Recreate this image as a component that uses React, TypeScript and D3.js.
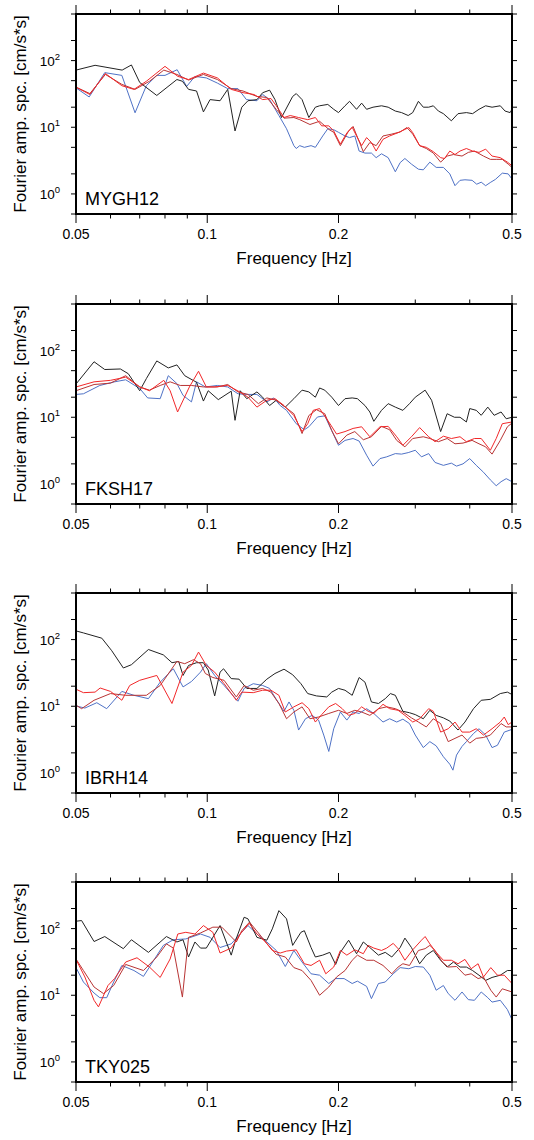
import React from 'react';
import * as d3 from 'd3';

// ---------- axis tick values ----------
const X_MAJOR = [0.05, 0.1, 0.2, 0.5];
const X_MINOR = [0.06, 0.07, 0.08, 0.09, 0.3, 0.4];
const Y_MAJOR = [1, 10, 100];
const Y_MINOR = [0.5, 2, 5, 20, 50, 200, 500];
const X_LABELS = ['0.05', '0.1', '0.2', '0.5'];
const Y_EXP = ['0', '1', '2'];
const STATIONS = ['MYGH12', 'FKSH17', 'IBRH14', 'TKY025'];

// ---------- data: [frequency Hz, Fourier amplitude] ----------
const mygh12Black = [[0.05,72],[0.0553,85],[0.0638,72],[0.067,86],[0.07,47],[0.0766,30],[0.0852,52],[0.0877,49],[0.0906,37],[0.0945,35],[0.098,17],[0.1015,26],[0.107,25],[0.1114,37],[0.1158,8.8],[0.12,20],[0.124,25],[0.13,26],[0.134,33],[0.139,36],[0.143,26],[0.148,14],[0.157,29],[0.16,32],[0.165,26],[0.171,14],[0.177,20],[0.181,21],[0.189,22],[0.195,18.6],[0.2,16.6],[0.207,21],[0.212,24.5],[0.22,18.6],[0.226,23],[0.232,18.6],[0.24,20],[0.251,21],[0.26,20],[0.27,17.5],[0.279,16.6],[0.289,15],[0.296,16.6],[0.305,24.5],[0.313,20],[0.322,20],[0.33,21],[0.339,17.5],[0.348,16],[0.363,12.5],[0.376,16],[0.393,16.6],[0.406,16],[0.42,18.6],[0.435,21],[0.45,20],[0.47,21],[0.482,17.5],[0.495,16.6],[0.5,18.6]];
const mygh12Blue = [[0.05,39],[0.0536,28.5],[0.0582,66],[0.0637,60],[0.0683,16.5],[0.0725,42],[0.0766,60],[0.08,60],[0.0853,73],[0.0897,41],[0.0937,58],[0.0995,55],[0.1055,46],[0.1114,38],[0.1176,38],[0.123,26],[0.13,25],[0.134,31],[0.139,26],[0.146,15],[0.152,9.5],[0.158,5.3],[0.16,4.8],[0.163,5.3],[0.167,5],[0.173,5.3],[0.177,5],[0.184,7.4],[0.189,9.5],[0.195,9.2],[0.2,8.4],[0.207,7.4],[0.212,7],[0.218,7.4],[0.223,4.4],[0.23,4.1],[0.238,4.1],[0.244,3.5],[0.251,4],[0.26,3.5],[0.27,2.15],[0.277,2.95],[0.284,3.4],[0.294,2.8],[0.305,2.35],[0.313,2.3],[0.324,3],[0.335,2.5],[0.348,2.5],[0.36,2],[0.37,1.33],[0.38,1.6],[0.39,1.63],[0.405,1.6],[0.415,1.4],[0.425,1.5],[0.435,1.33],[0.447,1.5],[0.458,1.65],[0.475,2.05],[0.49,2],[0.5,1.67]];
const mygh12Red = [[0.05,40],[0.0538,31],[0.0584,64],[0.0637,42],[0.0679,37],[0.0725,49],[0.08,82],[0.0856,58],[0.0906,52],[0.098,65],[0.1055,55],[0.1135,37],[0.1208,33],[0.128,31],[0.134,26],[0.14,27],[0.144,21],[0.15,14],[0.155,15],[0.162,14],[0.17,13],[0.177,14],[0.183,10.5],[0.19,10.5],[0.195,8.8],[0.202,5.6],[0.209,8.2],[0.215,10],[0.22,7.4],[0.226,5.3],[0.232,7],[0.238,5.9],[0.244,4.4],[0.253,6.6],[0.262,7.4],[0.274,8.3],[0.29,9.9],[0.296,8.3],[0.307,5.3],[0.318,5],[0.33,4.3],[0.343,3.5],[0.35,3.4],[0.36,4.4],[0.37,3.9],[0.38,4.4],[0.393,4.8],[0.406,4.4],[0.42,4.2],[0.435,4.7],[0.45,3.7],[0.47,3.5],[0.488,3],[0.5,2.65]];
const mygh12DarkRed = [[0.05,40],[0.0538,32],[0.0584,62],[0.0637,44],[0.0683,37],[0.0737,49],[0.0795,72],[0.0852,62],[0.0906,51],[0.098,62],[0.1055,52],[0.1135,38],[0.1208,35],[0.13,29],[0.137,28],[0.144,18.5],[0.15,13.7],[0.158,14],[0.163,13],[0.172,11],[0.181,12.3],[0.19,9.3],[0.195,8.4],[0.202,5.3],[0.211,8.8],[0.216,10.3],[0.222,6.6],[0.228,4.3],[0.236,5.9],[0.244,5.3],[0.253,7.4],[0.265,7.9],[0.277,8.5],[0.287,9.9],[0.296,7.9],[0.307,5.3],[0.318,4.8],[0.33,4.1],[0.343,3],[0.355,3.7],[0.367,3.9],[0.384,3.7],[0.397,4.2],[0.41,4.4],[0.43,3.7],[0.446,3.3],[0.46,3.3],[0.475,3.3],[0.49,2.8],[0.5,2.5]];

const fksh17Black = [[0.05,31.5],[0.055,68],[0.0582,52],[0.0632,53],[0.0659,45],[0.07,25],[0.0725,38],[0.0766,70],[0.0814,55],[0.0852,61],[0.0888,42],[0.0945,33.5],[0.098,17.5],[0.1005,25],[0.106,18.4],[0.1135,24.6],[0.1158,9],[0.119,25],[0.1232,19],[0.13,24],[0.134,20],[0.139,15],[0.144,18],[0.151,14.2],[0.158,19],[0.165,25.5],[0.171,24],[0.177,20],[0.181,27.5],[0.186,25.5],[0.193,20],[0.2,15],[0.207,19],[0.215,19.5],[0.221,19],[0.23,15],[0.236,12],[0.241,8.7],[0.251,12.7],[0.26,16],[0.27,14.2],[0.281,12.7],[0.291,16],[0.3,20],[0.316,25.5],[0.327,18],[0.343,6.1],[0.355,11.3],[0.369,10],[0.38,10],[0.393,8.5],[0.4,13.5],[0.414,12.7],[0.425,10.7],[0.44,14.2],[0.455,10.7],[0.472,12],[0.485,9.5],[0.5,10]];
const fksh17Blue = [[0.05,22],[0.052,22.5],[0.0567,30],[0.0613,34],[0.065,36.5],[0.07,27],[0.073,19.5],[0.078,19],[0.0814,42],[0.0852,32],[0.088,21.3],[0.092,17],[0.0945,34],[0.099,28.5],[0.1055,30],[0.1114,28.5],[0.1176,22.5],[0.1232,22],[0.13,22],[0.137,17],[0.142,19.5],[0.147,15],[0.152,12.7],[0.16,8],[0.167,6.5],[0.171,7.2],[0.179,10.1],[0.186,10.5],[0.193,6.3],[0.2,3.8],[0.207,4.5],[0.216,4.8],[0.223,4.4],[0.232,2.7],[0.24,1.85],[0.249,2.4],[0.258,2.55],[0.27,2.85],[0.279,2.8],[0.289,2.95],[0.3,3.2],[0.31,2.55],[0.322,2.85],[0.333,2.1],[0.348,1.9],[0.363,2.05],[0.373,1.85],[0.386,2],[0.4,2.4],[0.414,1.9],[0.43,1.5],[0.446,1.15],[0.46,0.94],[0.472,1.08],[0.485,1.2],[0.5,1.08]];
const fksh17Red = [[0.05,28.5],[0.055,34],[0.06,35.8],[0.065,40],[0.07,28.5],[0.0737,25],[0.0795,35.8],[0.0822,25],[0.0855,12],[0.091,28.5],[0.0955,49],[0.0995,28.5],[0.104,28.5],[0.1114,30],[0.1187,24],[0.124,20],[0.13,14.2],[0.137,18],[0.143,19],[0.15,15],[0.158,10.6],[0.165,6.1],[0.17,8],[0.175,12.7],[0.181,13.5],[0.19,8.5],[0.198,5.6],[0.207,6.1],[0.216,6.8],[0.226,7.2],[0.236,5.1],[0.249,7.2],[0.26,7.3],[0.272,5.1],[0.281,3.8],[0.294,5.1],[0.307,7],[0.322,5.1],[0.333,4.3],[0.348,5.2],[0.363,4.8],[0.38,5.1],[0.393,4.3],[0.41,4.8],[0.425,4.8],[0.446,3.2],[0.46,4.8],[0.475,8],[0.5,8.5]];
const fksh17DarkRed = [[0.05,25],[0.055,31],[0.06,32.5],[0.065,42],[0.07,28.5],[0.0737,25.5],[0.078,30],[0.0822,34],[0.0867,30],[0.092,30],[0.098,28.5],[0.1055,28.5],[0.1114,31],[0.1176,24],[0.124,22],[0.131,16],[0.137,19.5],[0.144,18],[0.151,14.2],[0.158,11.3],[0.165,5.7],[0.171,10.6],[0.178,13],[0.186,11.3],[0.193,6.3],[0.2,4],[0.209,5.4],[0.218,6.1],[0.228,4.6],[0.238,5.1],[0.251,7.3],[0.262,6.5],[0.272,4.5],[0.284,3.6],[0.296,4.8],[0.313,5.1],[0.324,4.8],[0.339,4.3],[0.355,4.8],[0.37,4],[0.386,4.1],[0.405,4.5],[0.42,4],[0.435,3.6],[0.45,2.8],[0.47,4.5],[0.488,7.2],[0.5,8.2]];

const ibrh14Black = [[0.05,135],[0.052,126],[0.0573,105],[0.0604,68],[0.0642,37.5],[0.067,42],[0.0733,71],[0.0793,59],[0.083,45],[0.086,47],[0.088,29],[0.0906,41],[0.0945,45],[0.098,45],[0.1005,35],[0.104,14.3],[0.107,32.5],[0.109,36.5],[0.1135,26],[0.1183,25.5],[0.1232,18.5],[0.13,18.5],[0.137,25.5],[0.143,31],[0.15,36],[0.157,29.7],[0.164,21.8],[0.17,15.5],[0.178,14.3],[0.188,13.8],[0.193,16.3],[0.2,18.5],[0.207,17.4],[0.215,14.6],[0.223,27],[0.23,23],[0.238,11.6],[0.247,11],[0.256,13],[0.263,15.5],[0.27,14.6],[0.281,8.4],[0.291,8],[0.3,7.5],[0.313,6.5],[0.324,8.7],[0.335,7.3],[0.348,6.7],[0.36,6],[0.376,4.4],[0.39,5.8],[0.408,9.2],[0.425,12.3],[0.446,12.7],[0.47,15.5],[0.488,16.3],[0.5,15]];
const ibrh14Blue = [[0.05,10.1],[0.0524,9.4],[0.0558,11.3],[0.0588,9.2],[0.0637,16.7],[0.0679,14.6],[0.0733,13],[0.078,23],[0.0836,36.5],[0.088,19.5],[0.092,23.5],[0.0965,32.5],[0.0995,43.5],[0.104,29],[0.1093,20.5],[0.1135,15.5],[0.1176,11.9],[0.1215,18.5],[0.1275,21.8],[0.134,20.5],[0.139,18.5],[0.144,12.7],[0.15,8.4],[0.154,11.6],[0.158,8.7],[0.162,4.4],[0.168,6.5],[0.174,7.3],[0.18,6.2],[0.185,3.7],[0.19,2.1],[0.195,4.6],[0.202,8.2],[0.209,6.2],[0.216,8.2],[0.223,7.8],[0.232,9.2],[0.241,7.8],[0.253,5.8],[0.262,6.5],[0.272,5.8],[0.281,6.4],[0.291,5.5],[0.3,3.7],[0.313,2.4],[0.324,2.95],[0.335,2.55],[0.348,1.75],[0.36,1.35],[0.366,1.1],[0.373,1.85],[0.384,2.5],[0.393,2.95],[0.408,3.9],[0.42,4.6],[0.435,3.7],[0.45,2.4],[0.463,2.6],[0.48,4.1],[0.5,4.5]];
const ibrh14Red = [[0.05,18],[0.052,16],[0.0553,16.3],[0.0568,18.8],[0.06,16.7],[0.0637,12.3],[0.0664,20.5],[0.07,24.5],[0.0766,29],[0.083,11],[0.088,32.5],[0.092,41],[0.0955,65],[0.0995,41],[0.104,32.5],[0.1093,21.8],[0.1166,12.3],[0.12,16.3],[0.1275,16],[0.134,17.4],[0.14,17.4],[0.146,14.6],[0.151,8.2],[0.158,9.8],[0.165,11.3],[0.171,9.2],[0.177,5.8],[0.183,7.5],[0.19,9.8],[0.197,11],[0.204,9.2],[0.211,7.3],[0.218,7.8],[0.226,9.8],[0.234,8.4],[0.241,7.8],[0.253,10.7],[0.262,9.2],[0.274,8.7],[0.284,7.3],[0.296,5.8],[0.307,6.5],[0.322,9.2],[0.33,8.4],[0.343,4.1],[0.357,4.6],[0.37,5.8],[0.384,4.1],[0.4,4.1],[0.414,4.6],[0.43,3.7],[0.45,4.6],[0.47,5.8],[0.48,6.9],[0.49,5.3],[0.5,5.8]];
const ibrh14DarkRed = [[0.05,10.4],[0.0515,9.2],[0.055,12.3],[0.06,15.5],[0.065,14.6],[0.0725,14.6],[0.078,20.5],[0.0852,47],[0.0888,43.5],[0.093,50],[0.0965,43.5],[0.099,31],[0.103,27],[0.1093,24.5],[0.1166,13.8],[0.1215,20.5],[0.1275,17.4],[0.134,18.5],[0.14,16.3],[0.146,11],[0.152,6.5],[0.158,8.2],[0.165,9.8],[0.172,6.5],[0.18,6.9],[0.19,7.8],[0.2,8.7],[0.209,7.8],[0.218,8.7],[0.226,8.2],[0.236,7.3],[0.247,9.2],[0.258,9.8],[0.27,9.2],[0.281,8.2],[0.294,6.7],[0.305,5.8],[0.318,4.9],[0.33,6.5],[0.343,5.5],[0.357,2.95],[0.37,3.3],[0.384,3.7],[0.4,2.8],[0.414,3.3],[0.43,3.4],[0.446,3.7],[0.46,4.6],[0.472,5.5],[0.485,4.9],[0.5,4.9]];

const tky025Black = [[0.05,129],[0.0515,132],[0.055,64],[0.0582,76],[0.0642,50],[0.067,68],[0.0733,44],[0.0806,76],[0.0852,63],[0.088,68],[0.0906,37.5],[0.0937,63],[0.0965,51],[0.0995,51],[0.107,111],[0.1135,40],[0.1158,63],[0.1215,148],[0.124,140],[0.13,74],[0.137,67],[0.141,99],[0.146,186],[0.152,140],[0.157,56],[0.164,88],[0.167,93],[0.173,52],[0.177,37.5],[0.184,40],[0.191,44],[0.197,29],[0.202,44],[0.211,67],[0.22,42],[0.228,63],[0.236,52],[0.247,40],[0.256,44],[0.265,37.5],[0.277,52],[0.284,72],[0.294,52],[0.307,29.7],[0.318,40],[0.33,47],[0.343,33.5],[0.355,26.5],[0.367,31.5],[0.38,26.5],[0.393,26.5],[0.406,23.5],[0.42,20],[0.435,16.7],[0.45,18.5],[0.47,20],[0.488,23.5],[0.5,23.5]];
const tky025Blue = [[0.05,26],[0.052,15.8],[0.055,10.8],[0.0567,9.2],[0.0588,9.2],[0.061,15.8],[0.0637,28],[0.0679,23.5],[0.0714,19.2],[0.0754,33.5],[0.0793,56],[0.0836,68],[0.0893,70],[0.0965,83],[0.1015,74],[0.107,52],[0.1135,59],[0.119,83],[0.124,111],[0.13,83],[0.137,63],[0.144,47],[0.151,27],[0.158,47],[0.165,31.5],[0.173,21],[0.181,20],[0.19,15],[0.197,17.8],[0.206,17.8],[0.215,15],[0.221,16.3],[0.232,13.6],[0.238,8.9],[0.247,15],[0.256,15.8],[0.267,21],[0.277,26],[0.29,25],[0.3,27],[0.313,26.5],[0.324,20],[0.335,11.9],[0.348,14],[0.357,10.6],[0.37,8.4],[0.384,11.2],[0.397,8.6],[0.41,8.4],[0.425,11.2],[0.44,9.2],[0.45,7.9],[0.47,8.4],[0.488,6.1],[0.5,4.3]];
const tky025Red = [[0.05,34.5],[0.0524,18.8],[0.055,8.4],[0.0563,6.7],[0.0592,14],[0.0613,17.8],[0.065,31.5],[0.069,36.5],[0.0737,26.5],[0.078,18.5],[0.0822,35],[0.0856,83],[0.0893,88],[0.0937,83],[0.098,111],[0.103,88],[0.107,43],[0.1135,51],[0.119,83],[0.1248,120],[0.13,83],[0.136,63],[0.141,47],[0.147,43],[0.152,46],[0.16,48],[0.167,29.7],[0.173,28],[0.181,33.5],[0.187,21],[0.195,26.5],[0.202,47],[0.209,40],[0.218,48],[0.228,42],[0.234,56],[0.241,51],[0.251,47],[0.258,51],[0.267,60],[0.274,50],[0.284,33.5],[0.296,48],[0.31,67],[0.316,76],[0.324,59],[0.335,44],[0.348,33.5],[0.363,33.5],[0.376,29.7],[0.39,34.5],[0.403,25],[0.418,29.7],[0.43,18.8],[0.447,26],[0.463,20],[0.48,20],[0.5,15]];
const tky025DarkRed = [[0.05,35],[0.052,23.5],[0.055,13.3],[0.0578,10.6],[0.061,14],[0.065,29],[0.0714,23.5],[0.0766,37.5],[0.0806,59],[0.0836,51],[0.0877,9.4],[0.0906,74],[0.0965,86],[0.103,105],[0.108,105],[0.1166,63],[0.12,93],[0.125,125],[0.131,86],[0.137,60],[0.144,41],[0.151,37.5],[0.158,26],[0.165,23.5],[0.173,16.7],[0.181,10],[0.19,13.3],[0.198,18.8],[0.207,23.5],[0.215,33.5],[0.221,40],[0.232,33.5],[0.241,33.5],[0.253,28],[0.265,21],[0.274,26.5],[0.281,29.7],[0.291,28],[0.305,47],[0.316,50],[0.324,56],[0.333,47],[0.346,31.5],[0.357,26.5],[0.373,27],[0.39,20],[0.403,21],[0.418,17.8],[0.43,18.8],[0.447,11.9],[0.46,9.4],[0.475,12.5],[0.5,11.2]];

const SERIES_COLORS = ['#4f72c6', '#222222', '#b83434', '#f2282a'];

const PANELS = [
  { name: STATIONS[0], series: [mygh12Blue, mygh12Black, mygh12DarkRed, mygh12Red] },
  { name: STATIONS[1], series: [fksh17Blue, fksh17Black, fksh17DarkRed, fksh17Red] },
  { name: STATIONS[2], series: [ibrh14Blue, ibrh14Black, ibrh14DarkRed, ibrh14Red] },
  { name: STATIONS[3], series: [tky025Blue, tky025Black, tky025DarkRed, tky025Red] },
];

const PANEL_TOPS = [14, 304, 593, 882];
const LEFT = 76, RIGHT = 512, H = 200;
const FONT = '"Liberation Sans", Arial, Helvetica, sans-serif';

function Panel({ top, name, series }: { top: number; name: string; series: number[][][] }) {
  const x = d3.scaleLog().domain([0.05, 0.5]).range([LEFT, RIGHT]);
  const y = d3.scaleLog().domain([0.5, 500]).range([top + H, top]);
  const line = d3.line<number[]>().x(d => x(d[0])).y(d => y(d[1]));
  const bottom = top + H;
  return (
    <g>
      {series.map((s, i) => (
        <path key={i} d={line(s) || ''} fill="none" stroke={SERIES_COLORS[i]} strokeWidth={1} strokeLinejoin="round" />
      ))}
      <rect x={LEFT} y={top} width={RIGHT - LEFT} height={H} fill="none" stroke="#000" strokeWidth={2} />
      {X_MAJOR.map(v => (
        <g key={'xM' + v}>
          <line x1={x(v)} x2={x(v)} y1={top} y2={top - 9} stroke="#000" strokeWidth={1} />
          <line x1={x(v)} x2={x(v)} y1={bottom} y2={bottom + 9} stroke="#000" strokeWidth={1} />
        </g>
      ))}
      {X_MINOR.map(v => (
        <g key={'xm' + v}>
          <line x1={x(v)} x2={x(v)} y1={top} y2={top - 4.5} stroke="#000" strokeWidth={1} />
          <line x1={x(v)} x2={x(v)} y1={bottom} y2={bottom + 4.5} stroke="#000" strokeWidth={1} />
        </g>
      ))}
      {Y_MAJOR.concat(Y_MINOR).map(v => (
        <g key={'y' + v}>
          <line x1={LEFT} x2={LEFT - 5} y1={y(v)} y2={y(v)} stroke="#000" strokeWidth={1} />
          <line x1={RIGHT} x2={RIGHT + 5} y1={y(v)} y2={y(v)} stroke="#000" strokeWidth={1} />
        </g>
      ))}
      {X_MAJOR.map((v, i) => (
        <text key={'xl' + v} x={x(v)} y={bottom + 25} textAnchor="middle" fontSize={14} fontFamily={FONT} fill="#000">{X_LABELS[i]}</text>
      ))}
      {Y_MAJOR.map((v, i) => (
        <text key={'yl' + v} x={60} y={y(v) + 5} textAnchor="end" fontSize={13.5} fontFamily={FONT} fill="#000">
          10<tspan fontSize={9.5} dy={-6}>{Y_EXP[i]}</tspan>
        </text>
      ))}
      <text x={(LEFT + RIGHT) / 2} y={bottom + 50} textAnchor="middle" fontSize={17} fontFamily={FONT} fill="#000">Frequency [Hz]</text>
      <text transform={`translate(26,${top + H / 2}) rotate(-90)`} textAnchor="middle" fontSize={17} fontFamily={FONT} fill="#000">Fourier amp. spc. [cm/s*s]</text>
      <text x={85} y={top + 191} fontSize={18} fontFamily={FONT} fill="#000">{name}</text>
    </g>
  );
}

export default function App() {
  return (
    <svg width={534} height={1140} style={{ position: 'absolute', left: 0, top: 0, background: '#fff' }}>
      {PANELS.map((p, i) => (
        <Panel key={p.name} top={PANEL_TOPS[i]} name={p.name} series={p.series} />
      ))}
    </svg>
  );
}
